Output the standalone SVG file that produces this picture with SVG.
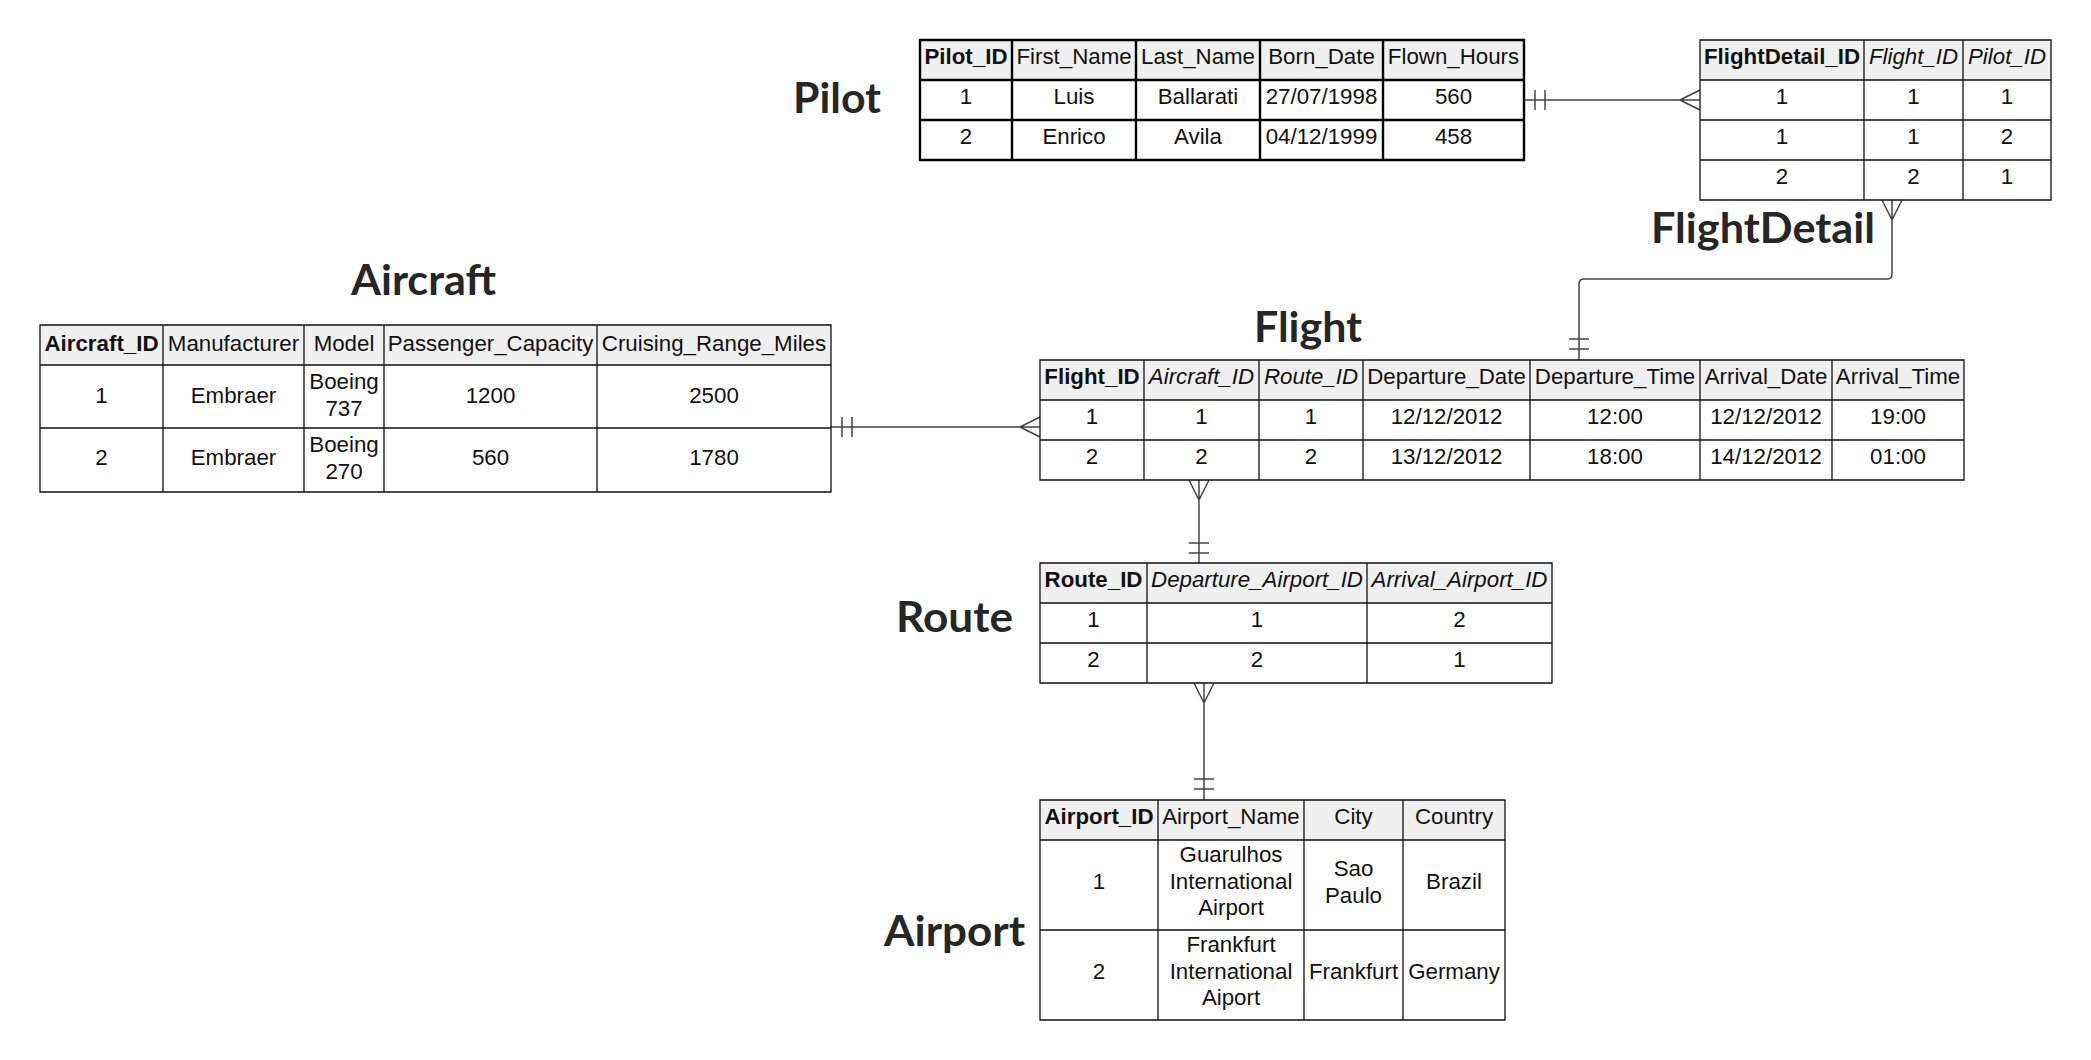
<svg xmlns="http://www.w3.org/2000/svg" width="2091" height="1060" viewBox="0 0 2091 1060">
<style>
.bg{fill:#ffffff}
.hdr{fill:#f0f0f0}
.body{fill:#ffffff}
.grid{stroke:#111;stroke-width:1.3;fill:none}
.gridb{stroke:#000;stroke-width:2.4;fill:none}
.t{font-family:"Liberation Sans",Arial,sans-serif;font-size:22.3px;fill:#111;text-anchor:middle}
.b{font-weight:bold}
.i{font-style:italic}
.title{font-family:Lato,"Open Sans",sans-serif;font-weight:bold;font-size:42px;fill:#262626}
.conn{stroke:#444;stroke-width:1.5;fill:none}
</style>
<rect class="bg" x="0" y="0" width="2091" height="1060"/>

<g id="labels">
<text class="title" x="793" y="113" textLength="88" lengthAdjust="spacingAndGlyphs">Pilot</text>
<text class="title" x="1651" y="243" textLength="224" lengthAdjust="spacingAndGlyphs">FlightDetail</text>
<text class="title" x="351" y="295" textLength="145" lengthAdjust="spacingAndGlyphs">Aircraft</text>
<text class="title" x="1254" y="342" textLength="108" lengthAdjust="spacingAndGlyphs">Flight</text>
<text class="title" x="896" y="632" textLength="117" lengthAdjust="spacingAndGlyphs">Route</text>
<text class="title" x="884" y="946" textLength="141" lengthAdjust="spacingAndGlyphs">Airport</text>
</g>

<g id="connectors">
<path class="conn" d="M1524,100 H1700 M1535,90 V110 M1545,90 V110 M1680,100 L1700,90 M1680,100 L1700,110"/>
<path class="conn" d="M1892,200 V274 Q1892,279 1887,279 H1584 Q1579,279 1579,284 V360 M1892,220 L1882,200 M1892,220 L1902,200 M1569,339 H1589 M1569,349 H1589"/>
<path class="conn" d="M831,427 H1040 M842,417 V437 M852,417 V437 M1020,427 L1040,417 M1020,427 L1040,437"/>
<path class="conn" d="M1199,480 V563 M1199,500 L1189,480 M1199,500 L1209,480 M1189,543 H1209 M1189,553 H1209"/>
<path class="conn" d="M1204,683 V800 M1204,703 L1194,683 M1204,703 L1214,683 M1194,779 H1214 M1194,789 H1214"/>
</g>

<g id="pilot">
<rect class="hdr" x="920" y="40" width="604" height="40"/>
<rect class="body" x="920" y="80" width="604" height="80"/>
<path class="gridb" d="M920,40 H1524 V160 H920 Z M920,80 H1524 M920,120 H1524 M1012,40 V160 M1136,40 V160 M1260,40 V160 M1383,40 V160"/>
<text class="t b" x="966" y="63.5">Pilot_ID</text>
<text class="t" x="1074" y="63.5">First_Name</text>
<text class="t" x="1198" y="63.5">Last_Name</text>
<text class="t" x="1321.5" y="63.5">Born_Date</text>
<text class="t" x="1453.5" y="63.5">Flown_Hours</text>
<text class="t" x="966" y="103.5">1</text>
<text class="t" x="1074" y="103.5">Luis</text>
<text class="t" x="1198" y="103.5">Ballarati</text>
<text class="t" x="1321.5" y="103.5">27/07/1998</text>
<text class="t" x="1453.5" y="103.5">560</text>
<text class="t" x="966" y="143.5">2</text>
<text class="t" x="1074" y="143.5">Enrico</text>
<text class="t" x="1198" y="143.5">Avila</text>
<text class="t" x="1321.5" y="143.5">04/12/1999</text>
<text class="t" x="1453.5" y="143.5">458</text>
</g>

<g id="flightdetail">
<rect class="hdr" x="1700" y="40" width="351" height="40"/>
<rect class="body" x="1700" y="80" width="351" height="120"/>
<path class="grid" d="M1700,40 H2051 V200 H1700 Z M1700,80 H2051 M1700,120 H2051 M1700,160 H2051 M1864,40 V200 M1963,40 V200"/>
<text class="t b" x="1782" y="63.5">FlightDetail_ID</text>
<text class="t i" x="1913.5" y="63.5">Flight_ID</text>
<text class="t i" x="2007" y="63.5">Pilot_ID</text>
<text class="t" x="1782" y="103.5">1</text>
<text class="t" x="1913.5" y="103.5">1</text>
<text class="t" x="2007" y="103.5">1</text>
<text class="t" x="1782" y="143.5">1</text>
<text class="t" x="1913.5" y="143.5">1</text>
<text class="t" x="2007" y="143.5">2</text>
<text class="t" x="1782" y="183.5">2</text>
<text class="t" x="1913.5" y="183.5">2</text>
<text class="t" x="2007" y="183.5">1</text>
</g>

<g id="aircraft">
<rect class="hdr" x="40" y="325" width="791" height="40"/>
<rect class="body" x="40" y="365" width="791" height="127"/>
<path class="grid" d="M40,325 H831 V492 H40 Z M40,365 H831 M40,428 H831 M163,325 V492 M304,325 V492 M384,325 V492 M597,325 V492"/>
<text class="t b" x="101.5" y="350.5">Aircraft_ID</text>
<text class="t" x="233.5" y="350.5">Manufacturer</text>
<text class="t" x="344" y="350.5">Model</text>
<text class="t" x="490.5" y="350.5">Passenger_Capacity</text>
<text class="t" x="714" y="350.5">Cruising_Range_Miles</text>
<text class="t" x="101.5" y="402.5">1</text>
<text class="t" x="233.5" y="402.5">Embraer</text>
<text class="t" x="344" y="389">Boeing</text>
<text class="t" x="344" y="415.5">737</text>
<text class="t" x="490.5" y="402.5">1200</text>
<text class="t" x="714" y="402.5">2500</text>
<text class="t" x="101.5" y="465">2</text>
<text class="t" x="233.5" y="465">Embraer</text>
<text class="t" x="344" y="452">Boeing</text>
<text class="t" x="344" y="478.5">270</text>
<text class="t" x="490.5" y="465">560</text>
<text class="t" x="714" y="465">1780</text>
</g>

<g id="flight">
<rect class="hdr" x="1040" y="360" width="924" height="40"/>
<rect class="body" x="1040" y="400" width="924" height="80"/>
<path class="grid" d="M1040,360 H1964 V480 H1040 Z M1040,400 H1964 M1040,440 H1964 M1144,360 V480 M1259,360 V480 M1363,360 V480 M1530,360 V480 M1700,360 V480 M1832,360 V480"/>
<text class="t b" x="1092" y="383.5">Flight_ID</text>
<text class="t i" x="1201.5" y="383.5">Aircraft_ID</text>
<text class="t i" x="1311" y="383.5">Route_ID</text>
<text class="t" x="1446.5" y="383.5">Departure_Date</text>
<text class="t" x="1615" y="383.5">Departure_Time</text>
<text class="t" x="1766" y="383.5">Arrival_Date</text>
<text class="t" x="1898" y="383.5">Arrival_Time</text>
<text class="t" x="1092" y="423.5">1</text>
<text class="t" x="1201.5" y="423.5">1</text>
<text class="t" x="1311" y="423.5">1</text>
<text class="t" x="1446.5" y="423.5">12/12/2012</text>
<text class="t" x="1615" y="423.5">12:00</text>
<text class="t" x="1766" y="423.5">12/12/2012</text>
<text class="t" x="1898" y="423.5">19:00</text>
<text class="t" x="1092" y="463.5">2</text>
<text class="t" x="1201.5" y="463.5">2</text>
<text class="t" x="1311" y="463.5">2</text>
<text class="t" x="1446.5" y="463.5">13/12/2012</text>
<text class="t" x="1615" y="463.5">18:00</text>
<text class="t" x="1766" y="463.5">14/12/2012</text>
<text class="t" x="1898" y="463.5">01:00</text>
</g>

<g id="route">
<rect class="hdr" x="1040" y="563" width="512" height="40"/>
<rect class="body" x="1040" y="603" width="512" height="80"/>
<path class="grid" d="M1040,563 H1552 V683 H1040 Z M1040,603 H1552 M1040,643 H1552 M1147,563 V683 M1367,563 V683"/>
<text class="t b" x="1093.5" y="587">Route_ID</text>
<text class="t i" x="1257" y="587">Departure_Airport_ID</text>
<text class="t i" x="1459.5" y="587">Arrival_Airport_ID</text>
<text class="t" x="1093.5" y="627">1</text>
<text class="t" x="1257" y="627">1</text>
<text class="t" x="1459.5" y="627">2</text>
<text class="t" x="1093.5" y="667">2</text>
<text class="t" x="1257" y="667">2</text>
<text class="t" x="1459.5" y="667">1</text>
</g>

<g id="airport">
<rect class="hdr" x="1040" y="800" width="465" height="40"/>
<rect class="body" x="1040" y="840" width="465" height="180"/>
<path class="grid" d="M1040,800 H1505 V1020 H1040 Z M1040,840 H1505 M1040,930 H1505 M1158,800 V1020 M1304,800 V1020 M1403,800 V1020"/>
<text class="t b" x="1099" y="823.5">Airport_ID</text>
<text class="t" x="1231" y="823.5">Airport_Name</text>
<text class="t" x="1353.5" y="823.5">City</text>
<text class="t" x="1454" y="823.5">Country</text>
<text class="t" x="1099" y="888.5">1</text>
<text class="t" x="1231" y="862">Guarulhos</text>
<text class="t" x="1231" y="888.5">International</text>
<text class="t" x="1231" y="915">Airport</text>
<text class="t" x="1353.5" y="876">Sao</text>
<text class="t" x="1353.5" y="902.5">Paulo</text>
<text class="t" x="1454" y="889">Brazil</text>
<text class="t" x="1099" y="978.5">2</text>
<text class="t" x="1231" y="952">Frankfurt</text>
<text class="t" x="1231" y="978.5">International</text>
<text class="t" x="1231" y="1005">Aiport</text>
<text class="t" x="1353.5" y="978.5">Frankfurt</text>
<text class="t" x="1454" y="978.5">Germany</text>
</g>
</svg>
